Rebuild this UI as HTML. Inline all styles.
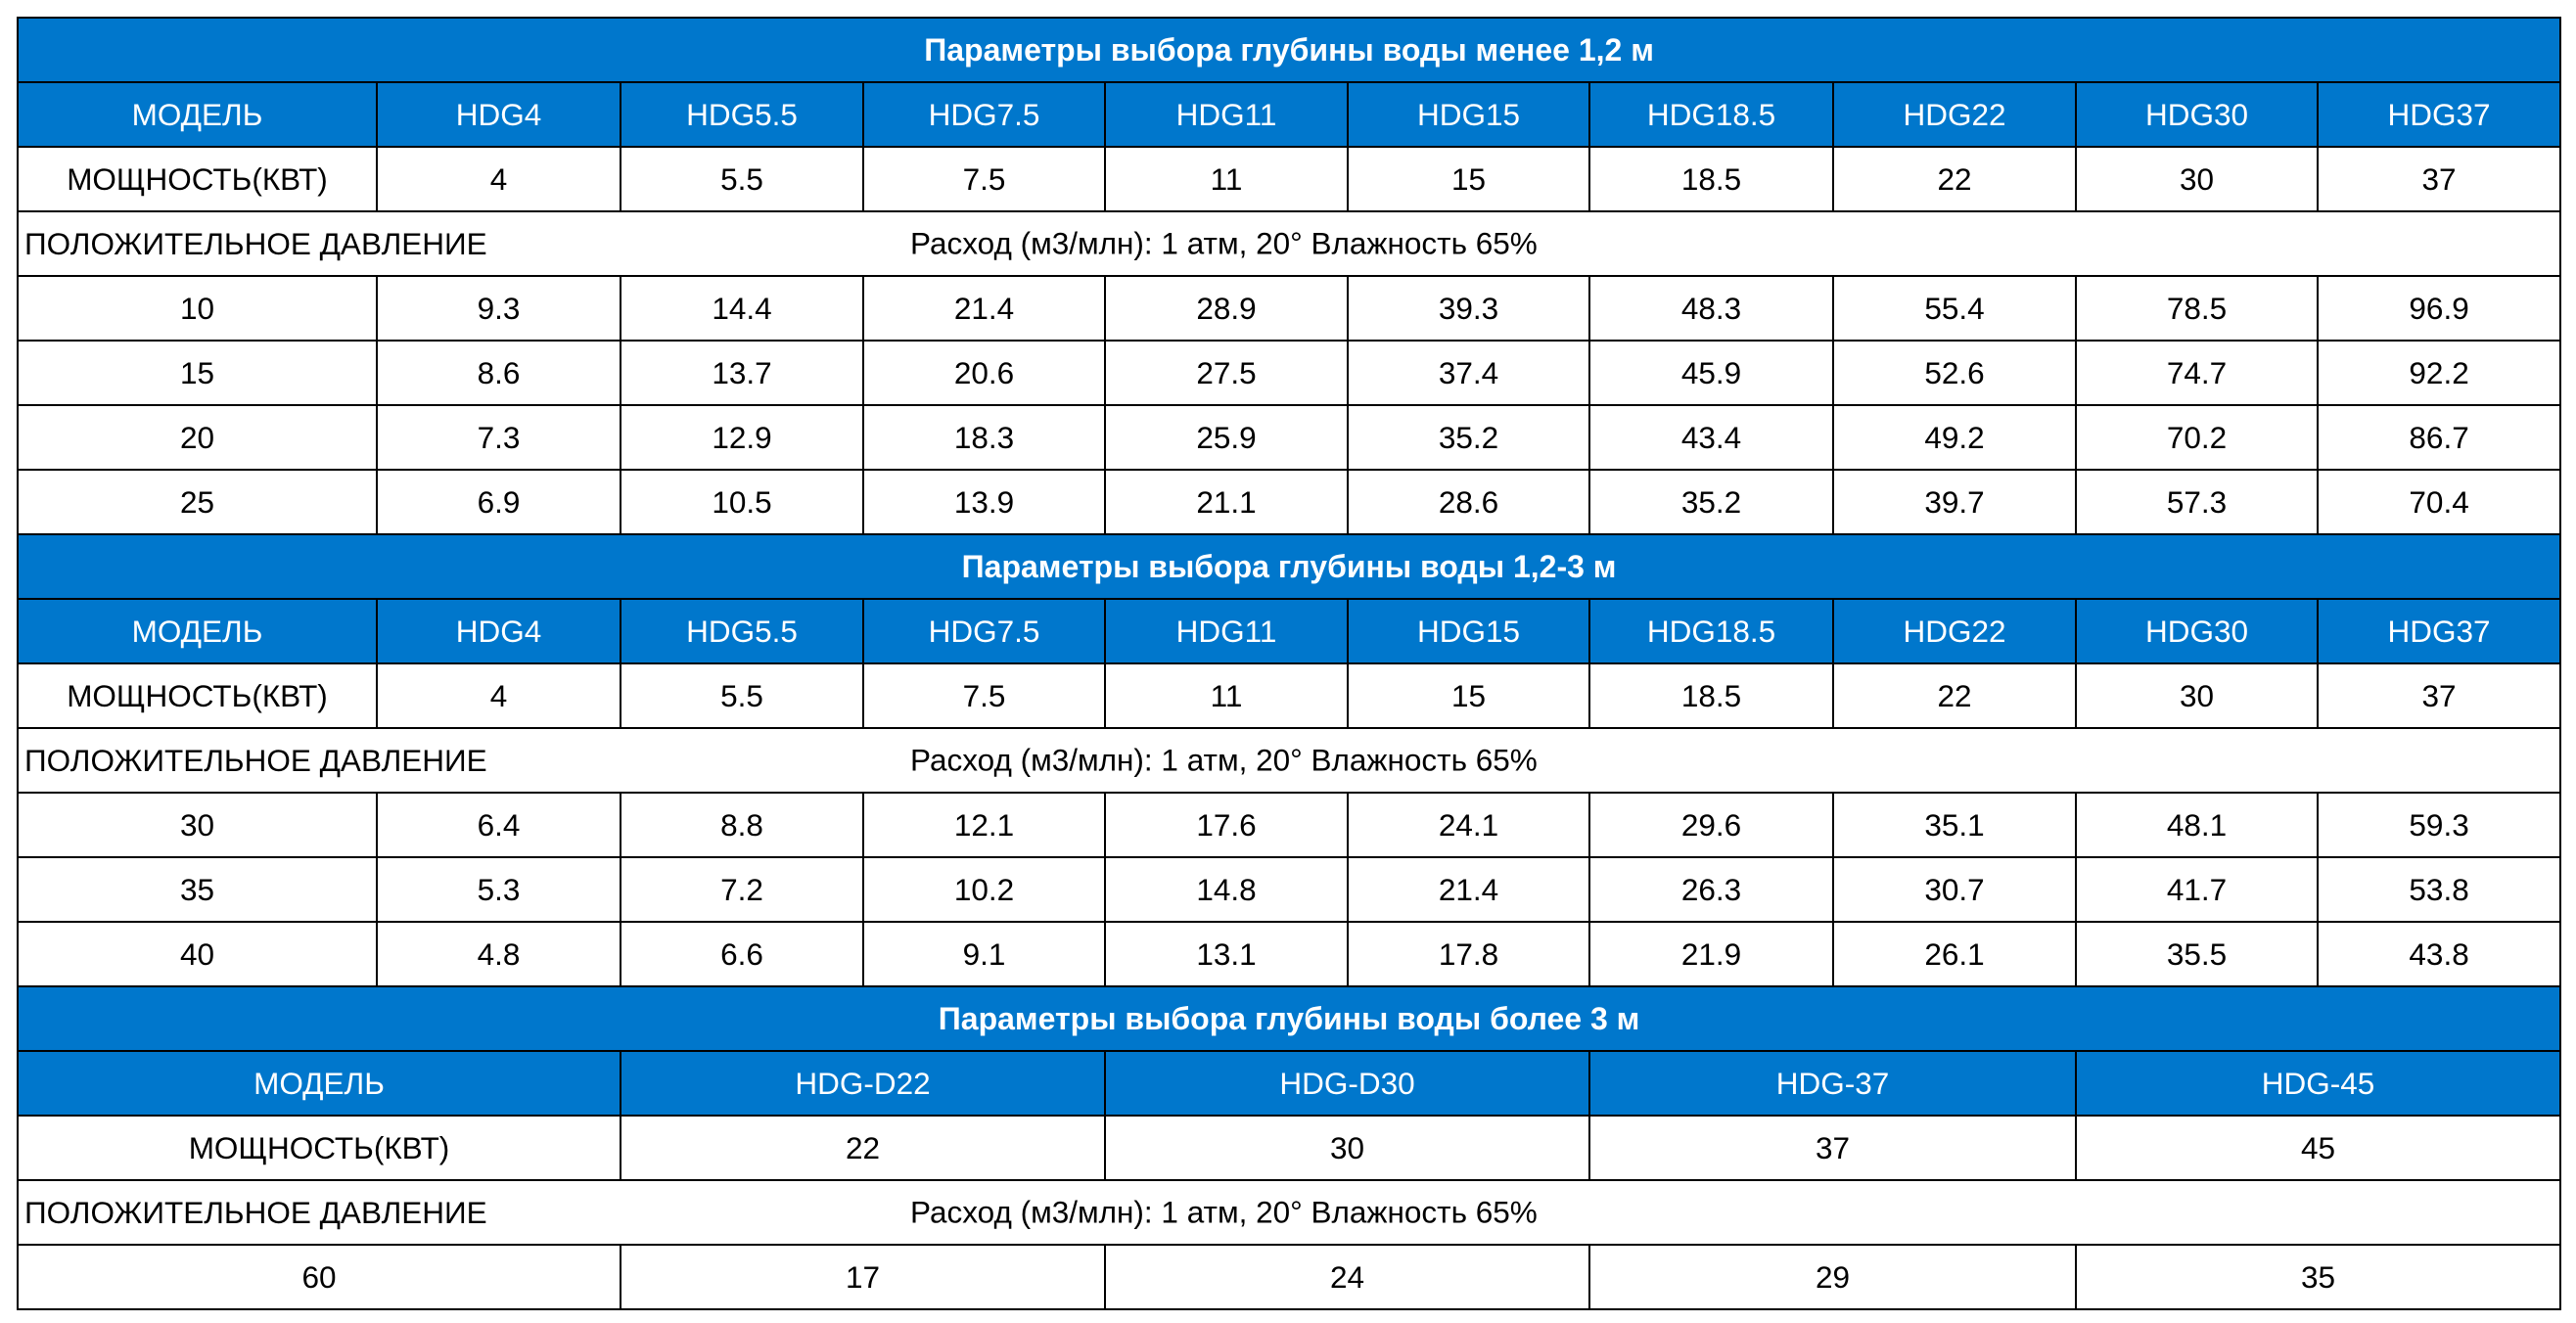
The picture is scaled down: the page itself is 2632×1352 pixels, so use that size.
<!DOCTYPE html>
<html><head><meta charset="utf-8"><style>
html,body{margin:0;padding:0;background:#fff;width:2632px;height:1352px;overflow:hidden}
table{position:absolute;left:17px;top:17px;width:2598px;border-collapse:collapse;table-layout:fixed;font-family:"Liberation Sans",Arial,sans-serif;font-size:31.5px;color:#000}
td{border:2.5px solid #000;padding:0;height:64px;text-align:center;vertical-align:middle;white-space:nowrap;overflow:visible}
tr.b td{background:#0077cc;color:#fff}
tr.t td{font-weight:bold;font-size:32px}
td.l{text-align:left;position:relative;padding-left:6px}
td.l span{position:absolute;left:911px;top:50%;transform:translateY(-50%)}
</style></head><body>
<table>
<colgroup><col style="width:367px"><col style="width:249px"><col style="width:248px"><col style="width:247px"><col style="width:248px"><col style="width:247px"><col style="width:249px"><col style="width:248px"><col style="width:247px"><col style="width:248px"></colgroup>
<tr class="b t"><td colspan="10">Параметры выбора глубины воды менее 1,2 м</td></tr>
<tr class="b"><td>МОДЕЛЬ</td><td>HDG4</td><td>HDG5.5</td><td>HDG7.5</td><td>HDG11</td><td>HDG15</td><td>HDG18.5</td><td>HDG22</td><td>HDG30</td><td>HDG37</td></tr>
<tr><td>МОЩНОСТЬ(КВТ)</td><td>4</td><td>5.5</td><td>7.5</td><td>11</td><td>15</td><td>18.5</td><td>22</td><td>30</td><td>37</td></tr>
<tr><td colspan="10" class="l">ПОЛОЖИТЕЛЬНОЕ ДАВЛЕНИЕ<span>Расход (м3/млн): 1 атм, 20° Влажность 65%</span></td></tr>
<tr><td>10</td><td>9.3</td><td>14.4</td><td>21.4</td><td>28.9</td><td>39.3</td><td>48.3</td><td>55.4</td><td>78.5</td><td>96.9</td></tr>
<tr><td>15</td><td>8.6</td><td>13.7</td><td>20.6</td><td>27.5</td><td>37.4</td><td>45.9</td><td>52.6</td><td>74.7</td><td>92.2</td></tr>
<tr><td>20</td><td>7.3</td><td>12.9</td><td>18.3</td><td>25.9</td><td>35.2</td><td>43.4</td><td>49.2</td><td>70.2</td><td>86.7</td></tr>
<tr><td>25</td><td>6.9</td><td>10.5</td><td>13.9</td><td>21.1</td><td>28.6</td><td>35.2</td><td>39.7</td><td>57.3</td><td>70.4</td></tr>
<tr class="b t"><td colspan="10">Параметры выбора глубины воды 1,2-3 м</td></tr>
<tr class="b"><td>МОДЕЛЬ</td><td>HDG4</td><td>HDG5.5</td><td>HDG7.5</td><td>HDG11</td><td>HDG15</td><td>HDG18.5</td><td>HDG22</td><td>HDG30</td><td>HDG37</td></tr>
<tr><td>МОЩНОСТЬ(КВТ)</td><td>4</td><td>5.5</td><td>7.5</td><td>11</td><td>15</td><td>18.5</td><td>22</td><td>30</td><td>37</td></tr>
<tr><td colspan="10" class="l">ПОЛОЖИТЕЛЬНОЕ ДАВЛЕНИЕ<span>Расход (м3/млн): 1 атм, 20° Влажность 65%</span></td></tr>
<tr><td>30</td><td>6.4</td><td>8.8</td><td>12.1</td><td>17.6</td><td>24.1</td><td>29.6</td><td>35.1</td><td>48.1</td><td>59.3</td></tr>
<tr><td>35</td><td>5.3</td><td>7.2</td><td>10.2</td><td>14.8</td><td>21.4</td><td>26.3</td><td>30.7</td><td>41.7</td><td>53.8</td></tr>
<tr><td>40</td><td>4.8</td><td>6.6</td><td>9.1</td><td>13.1</td><td>17.8</td><td>21.9</td><td>26.1</td><td>35.5</td><td>43.8</td></tr>
<tr class="b t"><td colspan="10">Параметры выбора глубины воды более 3 м</td></tr>
<tr class="b"><td colspan="2">МОДЕЛЬ</td><td colspan="2">HDG-D22</td><td colspan="2">HDG-D30</td><td colspan="2">HDG-37</td><td colspan="2">HDG-45</td></tr>
<tr><td colspan="2">МОЩНОСТЬ(КВТ)</td><td colspan="2">22</td><td colspan="2">30</td><td colspan="2">37</td><td colspan="2">45</td></tr>
<tr><td colspan="10" class="l">ПОЛОЖИТЕЛЬНОЕ ДАВЛЕНИЕ<span>Расход (м3/млн): 1 атм, 20° Влажность 65%</span></td></tr>
<tr><td colspan="2">60</td><td colspan="2">17</td><td colspan="2">24</td><td colspan="2">29</td><td colspan="2">35</td></tr>
</table>
</body></html>
